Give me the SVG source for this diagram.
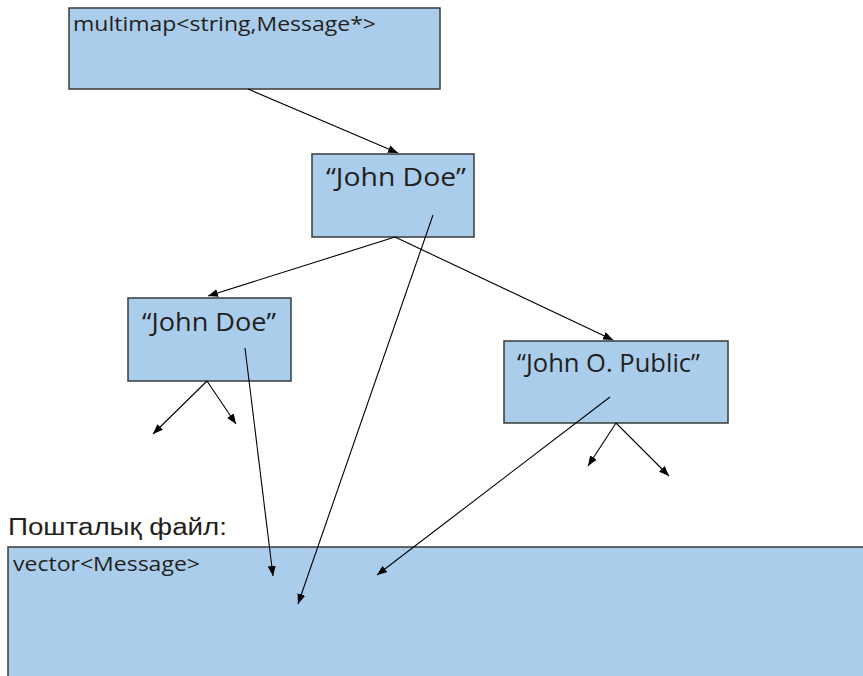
<svg xmlns="http://www.w3.org/2000/svg" width="863" height="676" viewBox="0 0 863 676">
<style>
.box{fill:#abcdec;stroke:#3a3a3a;stroke-width:1.5}
.t{font-family:"Open Sans","Liberation Sans",sans-serif;fill:#231f20}
.c line{stroke:#000;stroke-width:1.1;marker-end:url(#ah)}
</style>
<defs>
<marker id="ah" viewBox="0 0 10 8" refX="10" refY="4" markerWidth="10" markerHeight="8" markerUnits="userSpaceOnUse" orient="auto">
<path d="M0,0 L10,4 L0,8 Z" fill="#000"/>
</marker>
</defs>
<rect width="863" height="676" fill="#fff"/>
<g id="multimap">
<rect class="box" x="69" y="8" width="371" height="81"/>
<text class="t" x="73" y="31" font-size="20" textLength="303" lengthAdjust="spacingAndGlyphs">multimap&lt;string,Message*&gt;</text>
</g>
<g id="root">
<rect class="box" x="312" y="154" width="162" height="83"/>
<text class="t" x="326" y="186" font-size="26" textLength="140" lengthAdjust="spacingAndGlyphs">“John Doe”</text>
</g>
<g id="left">
<rect class="box" x="128" y="298" width="163" height="83"/>
<text class="t" x="142" y="331" font-size="26" textLength="134" lengthAdjust="spacingAndGlyphs">“John Doe”</text>
</g>
<g id="right">
<rect class="box" x="504" y="341" width="224" height="82"/>
<text class="t" x="517" y="372" font-size="26" textLength="183" lengthAdjust="spacingAndGlyphs">“John O. Public”</text>
</g>
<g id="file">
<text x="8" y="535" font-family="Liberation Sans, Arial, sans-serif" font-size="23" fill="#231f20" textLength="219" lengthAdjust="spacingAndGlyphs">Пошталық файл:</text>
<rect class="box" x="8" y="547" width="870" height="140"/>
<text class="t" x="13" y="571" font-size="20" textLength="187" lengthAdjust="spacingAndGlyphs">vector&lt;Message&gt;</text>
</g>
<g id="connectors" class="c">
<line x1="248" y1="89" x2="398" y2="153"/>
<line x1="395" y1="237" x2="208" y2="296"/>
<line x1="395" y1="237" x2="613" y2="340"/>
<line x1="433" y1="215" x2="298" y2="604"/>
<line x1="245" y1="348" x2="273" y2="576"/>
<line x1="207" y1="381" x2="153" y2="434"/>
<line x1="207" y1="381" x2="236" y2="424"/>
<line x1="610" y1="397" x2="377" y2="575"/>
<line x1="616" y1="423" x2="588" y2="466"/>
<line x1="616" y1="423" x2="669" y2="476"/>
</g>
</svg>
